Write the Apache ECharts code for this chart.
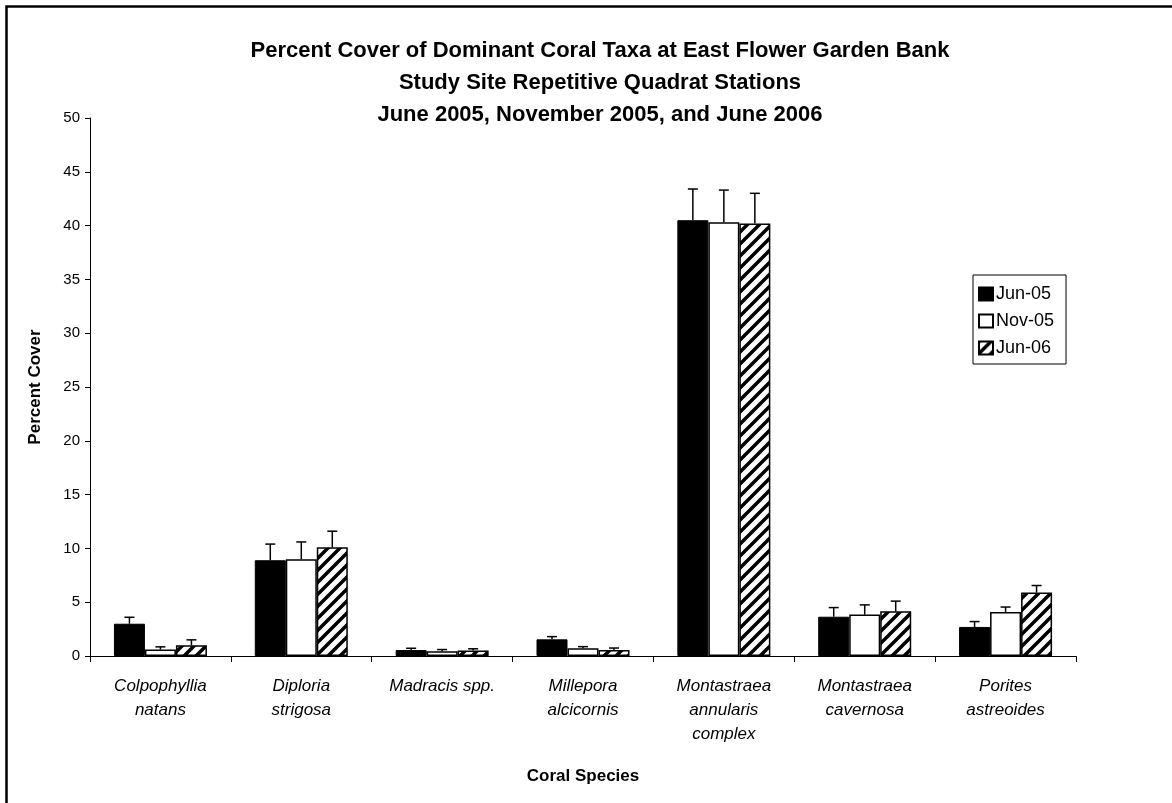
<!DOCTYPE html>
<html>
<head>
<meta charset="utf-8">
<script src="https://cdn.jsdelivr.net/npm/echarts@6/dist/echarts.min.js"></script>
<style>
html, body { margin: 0; padding: 0; background: #fff; }
#chart { width: 1172px; height: 803px; }
</style>
</head>
<body>
<div id="chart"></div>
<script>
const categories = [
  "Colpophyllia\nnatans",
  "Diploria\nstrigosa",
  "Madracis spp.",
  "Millepora\nalcicornis",
  "Montastraea\nannularis\ncomplex",
  "Montastraea\ncavernosa",
  "Porites\nastreoides"
]
const seriesNames = ["Jun-05", "Nov-05", "Jun-06"]
const jun05 = [3.0, 8.9, 0.55, 1.55, 40.5, 3.65, 2.7]
const nov05 = [0.6, 9.0, 0.45, 0.72, 40.3, 3.85, 4.1]
const jun06 = [1.0, 10.1, 0.5, 0.56, 40.2, 4.15, 5.9]
// upper error (standard error) amounts
const jun05Err = [0.6, 1.5, 0.17, 0.25, 2.9, 0.85, 0.5]
const nov05Err = [0.25, 1.6, 0.15, 0.15, 3.0, 0.9, 0.45]
const jun06Err = [0.5, 1.5, 0.17, 0.18, 2.8, 0.95, 0.65]
const yTicks = [0, 5, 10, 15, 20, 25, 30, 35, 40, 45, 50]

const chart = echarts.init(document.getElementById("chart"))

// diagonal hatch for Jun-06
const makeHatch = () => {
  const c = document.createElement("canvas")
  const s = 12
  c.width = s
  c.height = s
  const ctx = c.getContext("2d")
  ctx.fillStyle = "#fff"
  ctx.fillRect(0, 0, s, s)
  ctx.strokeStyle = "#000"
  ctx.lineWidth = 3.5
  ctx.beginPath()
  ctx.moveTo(-s, s * 2)
  ctx.lineTo(s * 2, -s)
  ctx.moveTo(-s * 2, s * 2)
  ctx.lineTo(s, -s)
  ctx.moveTo(0, s * 2)
  ctx.lineTo(s * 3, -s)
  ctx.stroke()
  return c
}
const hatch = { image: makeHatch(), repeat: "repeat" }

const barW = 31
const values = [jun05, nov05, jun06]
const errs = [jun05Err, nov05Err, jun06Err]

const errSeries = (k) => ({
  type: "custom",
  name: seriesNames[k] + " err",
  z: 5,
  silent: true,
  data: values[k].map((v, i) => [i, v, v + errs[k][i]]),
  renderItem: (params, api) => {
    const base = api.coord([api.value(0), api.value(1)])
    const top = api.coord([api.value(0), api.value(2)])
    const x = base[0] + (k - 1) * barW
    return {
      type: "group",
      children: [
        { type: "line", shape: { x1: x, y1: base[1], x2: x, y2: top[1] }, style: { stroke: "#000", lineWidth: 1.5 } },
        { type: "line", shape: { x1: x - 5, y1: top[1], x2: x + 5, y2: top[1] }, style: { stroke: "#000", lineWidth: 1.5 } }
      ]
    }
  }
})

const option = {
  backgroundColor: "#fff",
  animation: false,
  textStyle: { fontFamily: "Liberation Sans, Arial, sans-serif", color: "#000" },
  title: {
    text: "Percent Cover of Dominant Coral Taxa at East Flower Garden Bank\nStudy Site Repetitive Quadrat Stations\nJune 2005, November 2005, and June 2006",
    left: 595,
    textAlign: "center",
    top: 30,
    textStyle: { fontSize: 22, fontWeight: "bold", lineHeight: 32, color: "#000", fontFamily: "Liberation Sans, Arial, sans-serif" }
  },
  legend: {
    orient: "vertical",
    left: 973,
    top: 275,
    data: seriesNames,
    icon: "rect",
    itemWidth: 14,
    itemHeight: 13,
    itemGap: 9,
    padding: [10, 12, 7, 5],
    borderColor: "#000",
    borderWidth: 1,
    textStyle: { fontSize: 18, color: "#000", padding: [0, 0, 0, -2] }
  },
  grid: { left: 90, right: 96, top: 118, bottom: 147 },
  xAxis: {
    type: "category",
    data: categories,
    name: "Coral Species",
    nameLocation: "middle",
    nameGap: 112,
    nameTextStyle: { fontSize: 17, fontWeight: "bold", color: "#000" },
    axisLine: { lineStyle: { color: "#000", width: 1 } },
    axisTick: { show: true, length: 6, lineStyle: { color: "#000" } },
    axisLabel: { fontSize: 17, fontStyle: "italic", color: "#000", margin: 18, lineHeight: 24, interval: 0 }
  },
  yAxis: {
    type: "value",
    min: 0,
    max: 50,
    interval: 5,
    name: "Percent Cover",
    nameLocation: "middle",
    nameGap: 46,
    nameTextStyle: { fontSize: 17, fontWeight: "bold", color: "#000" },
    axisLine: { show: true, lineStyle: { color: "#000", width: 1 } },
    axisTick: { show: true, length: 5, lineStyle: { color: "#000" } },
    axisLabel: { fontSize: 15, color: "#000", margin: 10, formatter: (v) => (yTicks.includes(v) ? String(v) : "") },
    splitLine: { show: false }
  },
  graphic: [
    {
      type: "rect",
      left: 4,
      top: 4,
      shape: { width: 1300, height: 900 },
      style: { fill: "none", stroke: "#000", lineWidth: 2.5 },
      silent: true
    }
  ],
  series: [
    {
      name: seriesNames[0],
      type: "bar",
      barWidth: barW,
      barGap: "0%",
      data: jun05,
      itemStyle: { color: "#000", borderColor: "#000", borderWidth: 1 }
    },
    {
      name: seriesNames[1],
      type: "bar",
      barWidth: barW,
      barGap: "0%",
      data: nov05,
      itemStyle: { color: "#fff", borderColor: "#000", borderWidth: 1.5 }
    },
    {
      name: seriesNames[2],
      type: "bar",
      barWidth: barW,
      barGap: "0%",
      data: jun06,
      itemStyle: { color: hatch, borderColor: "#000", borderWidth: 1.5 }
    },
    errSeries(0),
    errSeries(1),
    errSeries(2)
  ]
}

chart.setOption(option)
</script>
</body>
</html>
